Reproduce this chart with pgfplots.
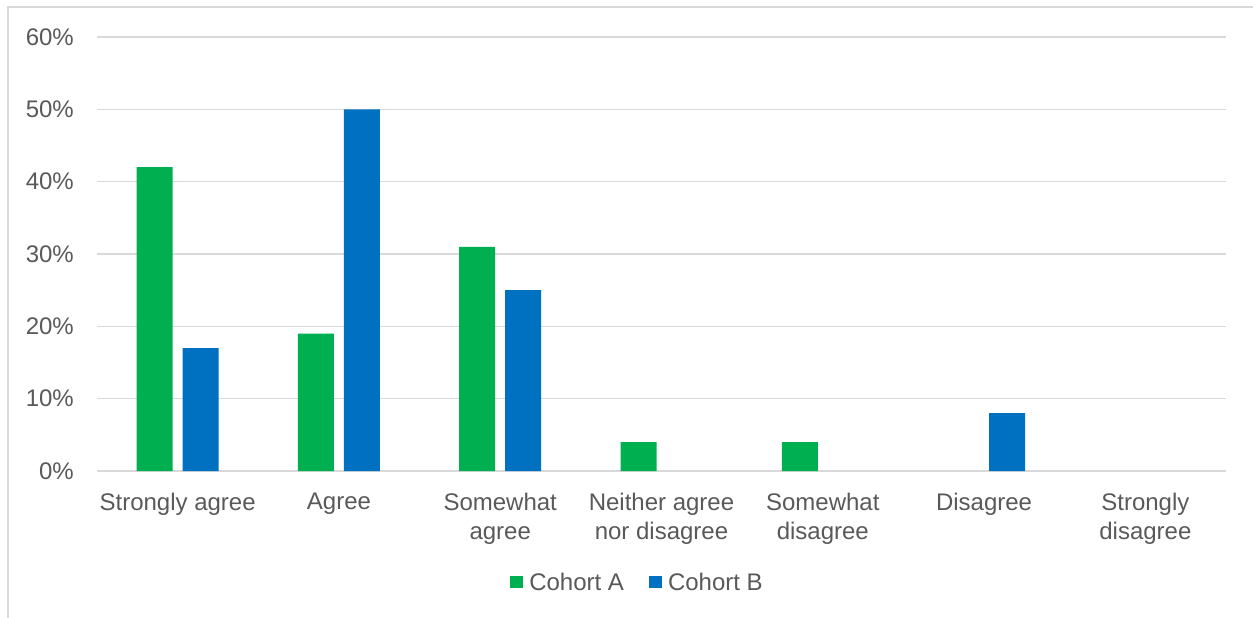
\documentclass[border=0pt]{standalone}
\usepackage{fontspec}
\setmainfont{Liberation Sans}
\usepackage{pgfplots}
\pgfplotsset{compat=1.18}

\definecolor{cohortA}{HTML}{00B050}
\definecolor{cohortB}{HTML}{0070C0}
\definecolor{gridgray}{HTML}{D9D9D9}
\definecolor{textgray}{HTML}{595959}

% Share of responses per agreement level (percent); empty levels are left out
\pgfplotstableread{
x  y
0  42
1  19
2  31
3  4
4  4
}\cohortA
\pgfplotstableread{
x  y
0  17
1  50
2  25
5  8
}\cohortB

\begin{document}
\begin{tikzpicture}
\useasboundingbox (-97pt,-147pt) rectangle (1156pt,471pt);
% light frame around the chart area
\draw[gridgray, line width=2pt] (-89pt,-148pt) -- (-89pt,464pt) -- (1157pt,464pt);
\begin{axis}[
  scale only axis, width=1129pt, height=434pt,
  at={(0pt,0pt)}, anchor=south west,
  xmin=-0.5, xmax=6.5, ymin=0, ymax=60,
  ybar=10pt, bar width=36pt,
  axis x line*=bottom, axis y line*=left,
  y axis line style={draw=none},
  x axis line style={gridgray, line width=1.5pt, -},
  major tick length=0pt,
  ymajorgrids, grid style={gridgray, line width=1.5pt},
  ytick={0,10,20,30,40,50,60},
  yticklabels={0\%,10\%,20\%,30\%,40\%,50\%,60\%},
  xtick={0,...,6},
  xticklabels={Strongly agree, Agree, Somewhat\\agree, Neither agree\\nor disagree, Somewhat\\disagree, Disagree, Strongly\\disagree},
  ticklabel style={font=\fontsize{24}{29}\selectfont, text=textgray, inner sep=0pt},
  xticklabel style={align=center, anchor=north, yshift=-21.5pt},
  yticklabel style={anchor=east, xshift=-23pt},
  legend style={at={(0.5,-0.258)}, anchor=center, xshift=-24pt, draw=none,
    font=\fontsize{24}{29}\selectfont, text=textgray,
    legend columns=2, inner sep=0pt,
    /tikz/every odd column/.append style={column sep=4.5pt},
    /tikz/every even column/.append style={column sep=23pt}},
  legend image code/.code={\fill[#1] (0pt,-5.5pt) rectangle (12.5pt,7pt);},
]
\addplot[fill=cohortA, draw=none] table[x=x, y=y] {\cohortA};
\addplot[fill=cohortB, draw=none] table[x=x, y=y] {\cohortB};
\legend{Cohort A, Cohort B}
\end{axis}
\end{tikzpicture}
\end{document}
